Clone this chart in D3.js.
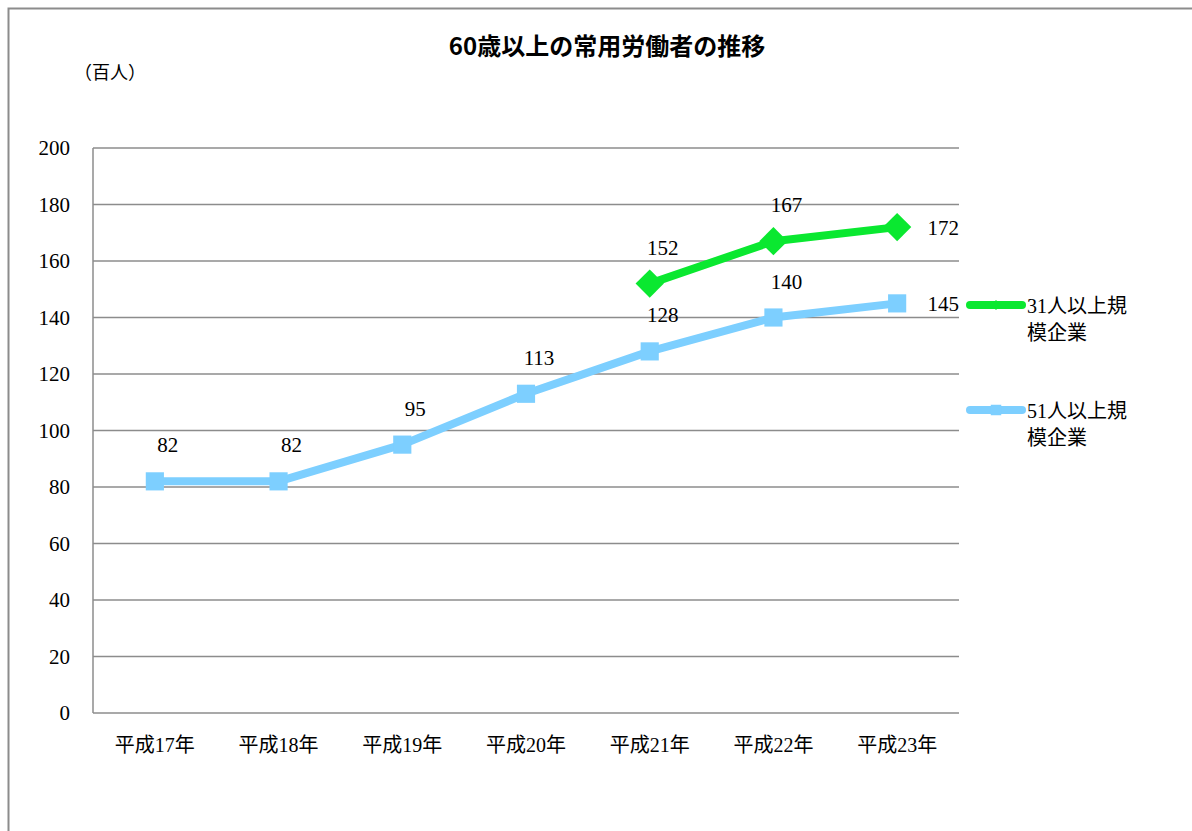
<!DOCTYPE html>
<html><head><meta charset="utf-8">
<script src="https://cdn.jsdelivr.net/npm/d3@7"></script>
<style>body{margin:0;background:#fff}svg{display:block}</style>
</head><body>
<svg id="c" width="1192" height="831"></svg>
<script>
const categories = ["平成17年","平成18年","平成19年","平成20年","平成21年","平成22年","平成23年"];
const series31 = [null,null,null,null,152,167,172];
const series51 = [82,82,95,113,128,140,145];
const seriesNames = ["31人以上規模企業","51人以上規模企業"];
const yTicks = [0,20,40,60,80,100,120,140,160,180,200];
const title = "60歳以上の常用労働者の推移";
const unitLabel = "（百人）";

const serif = "'Liberation Serif','Noto Sans CJK JP',serif";
const svg = d3.select("#c");
svg.append("rect").attr("x",8.5).attr("y",8.5).attr("width",1190).attr("height",830)
  .attr("fill","#fff").attr("stroke","#8c8c8c").attr("stroke-width",2);

const m = {l:93,r:959,t:148,b:713};
const x = d3.scaleBand().domain(categories).range([m.l,m.r]);
const y = d3.scaleLinear().domain([0,200]).range([m.b,m.t]);

// grid
svg.append("g").selectAll("line").data(yTicks).join("line")
  .attr("x1",m.l).attr("x2",m.r).attr("y1",d=>y(d)).attr("y2",d=>y(d))
  .attr("stroke","#8c8c8c").attr("stroke-width",1.5);
svg.append("line").attr("x1",m.l).attr("x2",m.l).attr("y1",m.t).attr("y2",m.b)
  .attr("stroke","#8c8c8c").attr("stroke-width",1.5);

// y axis labels
const ya = svg.append("g").attr("transform",`translate(${m.l},0)`)
  .call(d3.axisLeft(y).tickValues(yTicks).tickSize(0).tickPadding(23));
ya.select(".domain").remove();
ya.selectAll("text").attr("font-family",serif).attr("font-size",21).attr("fill","#000");

// x axis labels
const xa = svg.append("g").attr("transform",`translate(0,${m.b})`)
  .call(d3.axisBottom(x).tickSize(0).tickPadding(25));
xa.select(".domain").remove();
xa.selectAll("text").attr("font-family",serif).attr("font-size",20).attr("fill","#000");

// title + unit
svg.append("text").attr("x",607).attr("y",55).attr("text-anchor","middle")
  .attr("font-family","'Noto Sans CJK JP',sans-serif").attr("font-weight","bold")
  .attr("font-size",24).text(title);
svg.append("text").attr("x",74).attr("y",79).attr("font-family",serif)
  .attr("font-size",18).text(unitLabel);

const cx = d=>x(d)+x.bandwidth()/2;
const line = d3.line().defined(d=>d.v!=null).x(d=>cx(d.c)).y(d=>y(d.v));
const mk = arr => categories.map((c,i)=>({c,v:arr[i],i}));

const defs = [
  {data:mk(series51),color:"#7dcfff",rot:0,size:330,lsize:110,name:seriesNames[1],ly:410},
  {data:mk(series31),color:"#0ae830",rot:45,size:400,lsize:50,name:seriesNames[0],ly:305}
];
defs.forEach(s=>{
  svg.append("path").datum(s.data).attr("d",line).attr("fill","none")
    .attr("stroke",s.color).attr("stroke-width",8).attr("stroke-linejoin","round");
  const pts = s.data.filter(d=>d.v!=null);
  svg.append("g").selectAll("path").data(pts).join("path")
    .attr("transform",d=>`translate(${cx(d.c)},${y(d.v)}) rotate(${s.rot})`)
    .attr("d",d3.symbol().type(d3.symbolSquare).size(s.size)).attr("fill",s.color);
  svg.append("g").selectAll("text").data(pts).join("text")
    .attr("x",d=>d.i===categories.length-1? cx(d.c)+46 : cx(d.c)+13)
    .attr("y",d=>d.i===categories.length-1? y(d.v)+8 : y(d.v)-29)
    .attr("text-anchor","middle").attr("font-family",serif).attr("font-size",21)
    .text(d=>d.v);
  // legend
  svg.append("line").attr("x1",970).attr("x2",1022).attr("y1",s.ly).attr("y2",s.ly)
    .attr("stroke",s.color).attr("stroke-width",8).attr("stroke-linecap","round");
  svg.append("path").attr("transform",`translate(996,${s.ly}) rotate(${s.rot})`)
    .attr("d",d3.symbol().type(d3.symbolSquare).size(s.lsize)).attr("fill",s.color);
  const t = svg.append("text").attr("font-family",serif).attr("font-size",20);
  t.append("tspan").attr("x",1027).attr("y",s.ly+8).text(s.name.slice(0,6));
  t.append("tspan").attr("x",1027).attr("y",s.ly+35).text(s.name.slice(6));
});
</script>
</body></html>
